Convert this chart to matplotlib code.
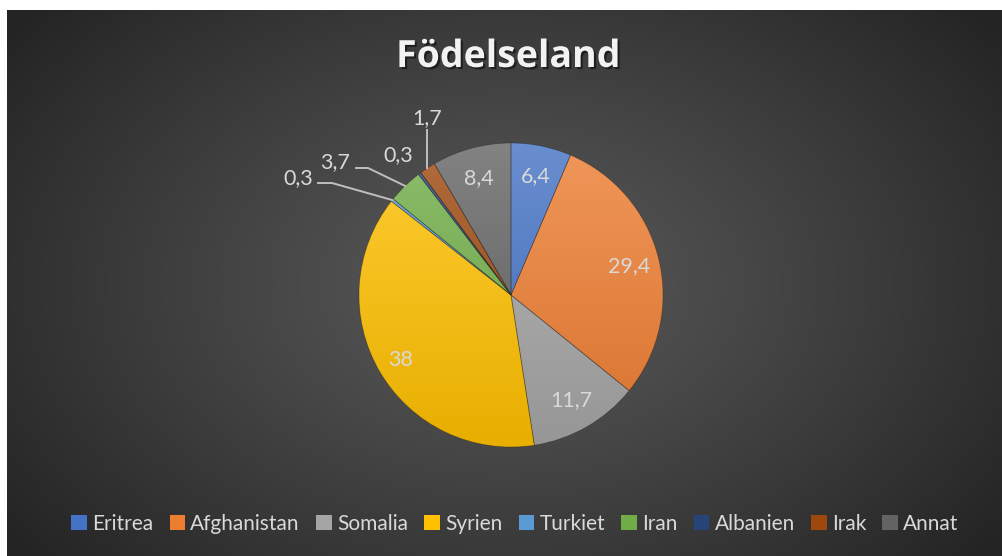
import numpy as np
import matplotlib
matplotlib.use("Agg")
import matplotlib.pyplot as plt
from matplotlib.patches import Patch
from matplotlib import patheffects as pe
from matplotlib.colors import to_rgb

# ---- data ----
categories = ["Eritrea", "Afghanistan", "Somalia", "Syrien", "Turkiet",
              "Iran", "Albanien", "Irak", "Annat"]
values = [6.4, 29.4, 11.7, 38, 0.3, 3.7, 0.3, 1.7, 8.4]
value_labels = ["6,4", "29,4", "11,7", "38", "0,3", "3,7", "0,3", "1,7", "8,4"]
colors = ["#4472C4", "#ED7D31", "#A5A5A5", "#FFC000", "#5B9BD5",
          "#70AD47", "#264478", "#9E480E", "#636363"]
title = "Födelseland"

W, H = 1002, 556
FONT = ["Lato", "DejaVu Sans"]
TXT = "#D9D9D9"
LFS = 15.5

fig = plt.figure(figsize=(W / 100, H / 100), dpi=100, facecolor="white")

# background (radial gradient), leaving the thin white strips top/left
bg = fig.add_axes([7 / W, 0, (W - 7) / W, (H - 10) / H])
bg.set_axis_off()
ny, nx = 300, 540
yy, xx = np.mgrid[0:ny, 0:nx]
cx, cy = nx * 0.50, ny * 0.50
d = np.sqrt(((xx - cx) / (nx * 0.5)) ** 2 + ((yy - cy) / (ny * 0.62)) ** 2)
t = np.clip(d / 1.25, 0, 1) ** 1.1
c0 = np.array(to_rgb("#5a5a5a"))
c1 = np.array(to_rgb("#242424"))
img = c0[None, None, :] * (1 - t[..., None]) + c1[None, None, :] * t[..., None]
bg.imshow(img, aspect="auto", extent=(0, 1, 0, 1), interpolation="bicubic")
bg.set_xlim(0, 1); bg.set_ylim(0, 1)

ax = fig.add_axes([0, 0, 1, 1])
ax.patch.set_alpha(0)

CX, CY, R = 511, H - 295, 152
wedges, _ = ax.pie(values, colors=colors, startangle=90, counterclock=False,
                   center=(CX, CY), radius=R,
                   wedgeprops=dict(linewidth=0.6, edgecolor=(0, 0, 0, 0.25)))
ax.set_xlim(0, W)
ax.set_ylim(0, H)
ax.set_aspect("equal")
ax.set_axis_off()

# vertical gradient fill for each wedge
gy = np.linspace(0, 1, 256)[:, None]
for w, c in zip(wedges, colors):
    base = np.array(to_rgb(c))
    top = base + (1 - base) * 0.2
    bot = base * 0.91
    g = top[None, None, :] * (1 - gy[..., None]) + bot[None, None, :] * gy[..., None]
    g = np.repeat(g, 4, axis=1)
    im = ax.imshow(g, extent=(CX - R, CX + R, CY - R, CY + R), aspect="auto",
                   zorder=w.get_zorder() + 0.1, interpolation="bilinear")
    im.set_clip_path(w)
    w.set_zorder(w.get_zorder() + 0.2)
    w.set_facecolor("none")
ax.set_xlim(0, W)
ax.set_ylim(0, H)

# data labels
total = float(sum(values))
cum = 0.0
mid_angles = []
for v in values:
    start = 90 - cum / total * 360
    end = 90 - (cum + v) / total * 360
    mid_angles.append(np.deg2rad((start + end) / 2))
    cum += v

inside = {0: 0.8, 1: 0.8, 2: 0.8, 3: 0.84, 8: 0.8}
for i, lab in enumerate(value_labels):
    a = mid_angles[i]
    if i in inside:
        f = inside[i]
        ax.text(CX + f * R * np.cos(a), CY + f * R * np.sin(a), lab,
                ha="center", va="center", fontsize=LFS, color=TXT,
                family=FONT, zorder=10)

# outside labels with leader lines (layout positions in pixels)
LINE = "#BFBFBF"
def px(x, y):
    return x, H - y

# Turkiet
i = 4; a = mid_angles[i]
ex, ey = CX + R * np.cos(a), CY + R * np.sin(a)
ax.plot([ex, 332, 318], [ey, H - 183, H - 183], color=LINE, lw=1.4, zorder=9)
ax.text(*px(313, 178), value_labels[i], ha="right", va="center",
        fontsize=LFS, color=TXT, family=FONT, zorder=10)
# Iran
i = 5; a = mid_angles[i]
ex, ey = CX + R * np.cos(a), CY + R * np.sin(a)
ax.plot([ex, 368, 356], [ey, H - 168, H - 168], color=LINE, lw=1.4, zorder=9)
ax.text(*px(350, 162), value_labels[i], ha="right", va="center",
        fontsize=LFS, color=TXT, family=FONT, zorder=10)
# Albanien
i = 6
ax.text(*px(398, 155), value_labels[i], ha="center", va="center",
        fontsize=LFS, color=TXT, family=FONT, zorder=10)
# Irak
i = 7; a = mid_angles[i]
ex, ey = CX + R * np.cos(a), CY + R * np.sin(a)
ax.plot([427, 427], [H - 130, ey], color=LINE, lw=1.4, zorder=9)
ax.text(*px(427, 118), value_labels[i], ha="center", va="center",
        fontsize=LFS, color=TXT, family=FONT, zorder=10)

# title
ax.text(*px(508, 57), title, ha="center", va="center", fontsize=27,
        fontweight="bold", color="#F2F2F2", family=["Open Sans", "DejaVu Sans"],
        zorder=10,
        path_effects=[pe.withSimplePatchShadow(offset=(1.5, -1.5),
                                               shadow_rgbFace="black", alpha=0.5)])

# legend
handles = [Patch(facecolor=c, edgecolor="none") for c in colors]
fig.legend(handles, categories, loc="center", bbox_to_anchor=(515 / W, (H - 524) / H),
           ncol=len(categories), frameon=False,
           handlelength=0.75, handleheight=0.75, handletextpad=0.25,
           columnspacing=0.78, labelcolor=TXT, prop=dict(family=FONT, size=15))

fig.savefig("out.png", dpi=100, facecolor=fig.get_facecolor())
